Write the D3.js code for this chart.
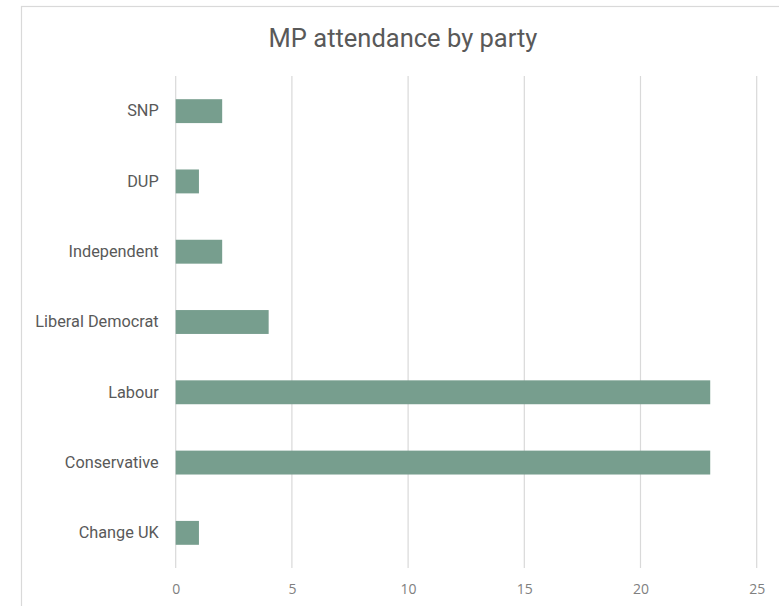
<!DOCTYPE html>
<html>
<head>
<meta charset="utf-8">
<script src="https://cdn.jsdelivr.net/npm/d3@7"></script>
<style>
  body { margin: 0; background: #fff; }
  svg { display: block; }
</style>
</head>
<body>
<div id="chart"></div>
<script>
const parties = ['SNP', 'DUP', 'Independent', 'Liberal Democrat', 'Labour', 'Conservative', 'Change UK']
const attendance = [2, 1, 2, 4, 23, 23, 1]
const xTicks = [0, 5, 10, 15, 20, 25]

const W = 779
const H = 606
const MARGIN = { LEFT: 175.7, RIGHT: 22, TOP: 76, BOTTOM: 38 }
const WIDTH = W - MARGIN.LEFT - MARGIN.RIGHT
const HEIGHT = H - MARGIN.TOP - MARGIN.BOTTOM

const svg = d3.select('#chart')
  .append('svg')
  .attr('width', W)
  .attr('height', H)

// chart frame
svg.append('rect')
  .attr('x', 21.5)
  .attr('y', 6.5)
  .attr('width', 800)
  .attr('height', 700)
  .attr('fill', '#fff')
  .attr('stroke', '#d9d9d9')
  .attr('stroke-width', 1.2)

svg.append('text')
  .attr('x', 403)
  .attr('y', 47)
  .attr('text-anchor', 'middle')
  .attr('font-family', 'Roboto')
  .attr('font-size', '25.5px')
  .attr('fill', '#595959')
  .text('MP attendance by party')

const g = svg.append('g')
  .attr('transform', `translate(${MARGIN.LEFT}, ${MARGIN.TOP})`)

const x = d3.scaleLinear()
  .domain([0, 25])
  .range([0, 116.2 * 5])

const y = d3.scaleBand()
  .domain(parties)
  .range([0, HEIGHT])
  .paddingInner(0.66)
  .paddingOuter(0.33)

// gridlines
g.selectAll('.grid')
  .data(xTicks)
  .enter()
  .append('line')
  .attr('class', 'grid')
  .attr('x1', d => x(d))
  .attr('x2', d => x(d))
  .attr('y1', 0)
  .attr('y2', HEIGHT)
  .attr('stroke', '#d9d9d9')
  .attr('stroke-width', 1.2)

// x axis labels
const xAxisCall = d3.axisBottom(x).tickValues(xTicks).tickSize(0).tickPadding(16)
const xAxis = g.append('g')
  .attr('transform', `translate(0, ${HEIGHT})`)
  .call(xAxisCall)
xAxis.select('.domain').remove()
xAxis.selectAll('text')
  .attr('font-family', 'Open Sans')
  .attr('font-size', '14px')
  .attr('fill', '#808080')

// y axis labels
const yAxisCall = d3.axisLeft(y).tickSize(0).tickPadding(17)
const yAxis = g.append('g').call(yAxisCall)
yAxis.select('.domain').remove()
yAxis.selectAll('text')
  .attr('font-family', 'Roboto')
  .attr('font-size', '16.3px')
  .attr('fill', '#595959')

const rows = parties.map((p, i) => ({ party: p, value: attendance[i] }))

g.selectAll('rect.bar')
  .data(rows)
  .enter()
  .append('rect')
  .attr('class', 'bar')
  .attr('x', 0)
  .attr('y', d => y(d.party))
  .attr('width', d => x(d.value))
  .attr('height', y.bandwidth())
  .attr('fill', '#779e8e')
</script>
</body>
</html>
